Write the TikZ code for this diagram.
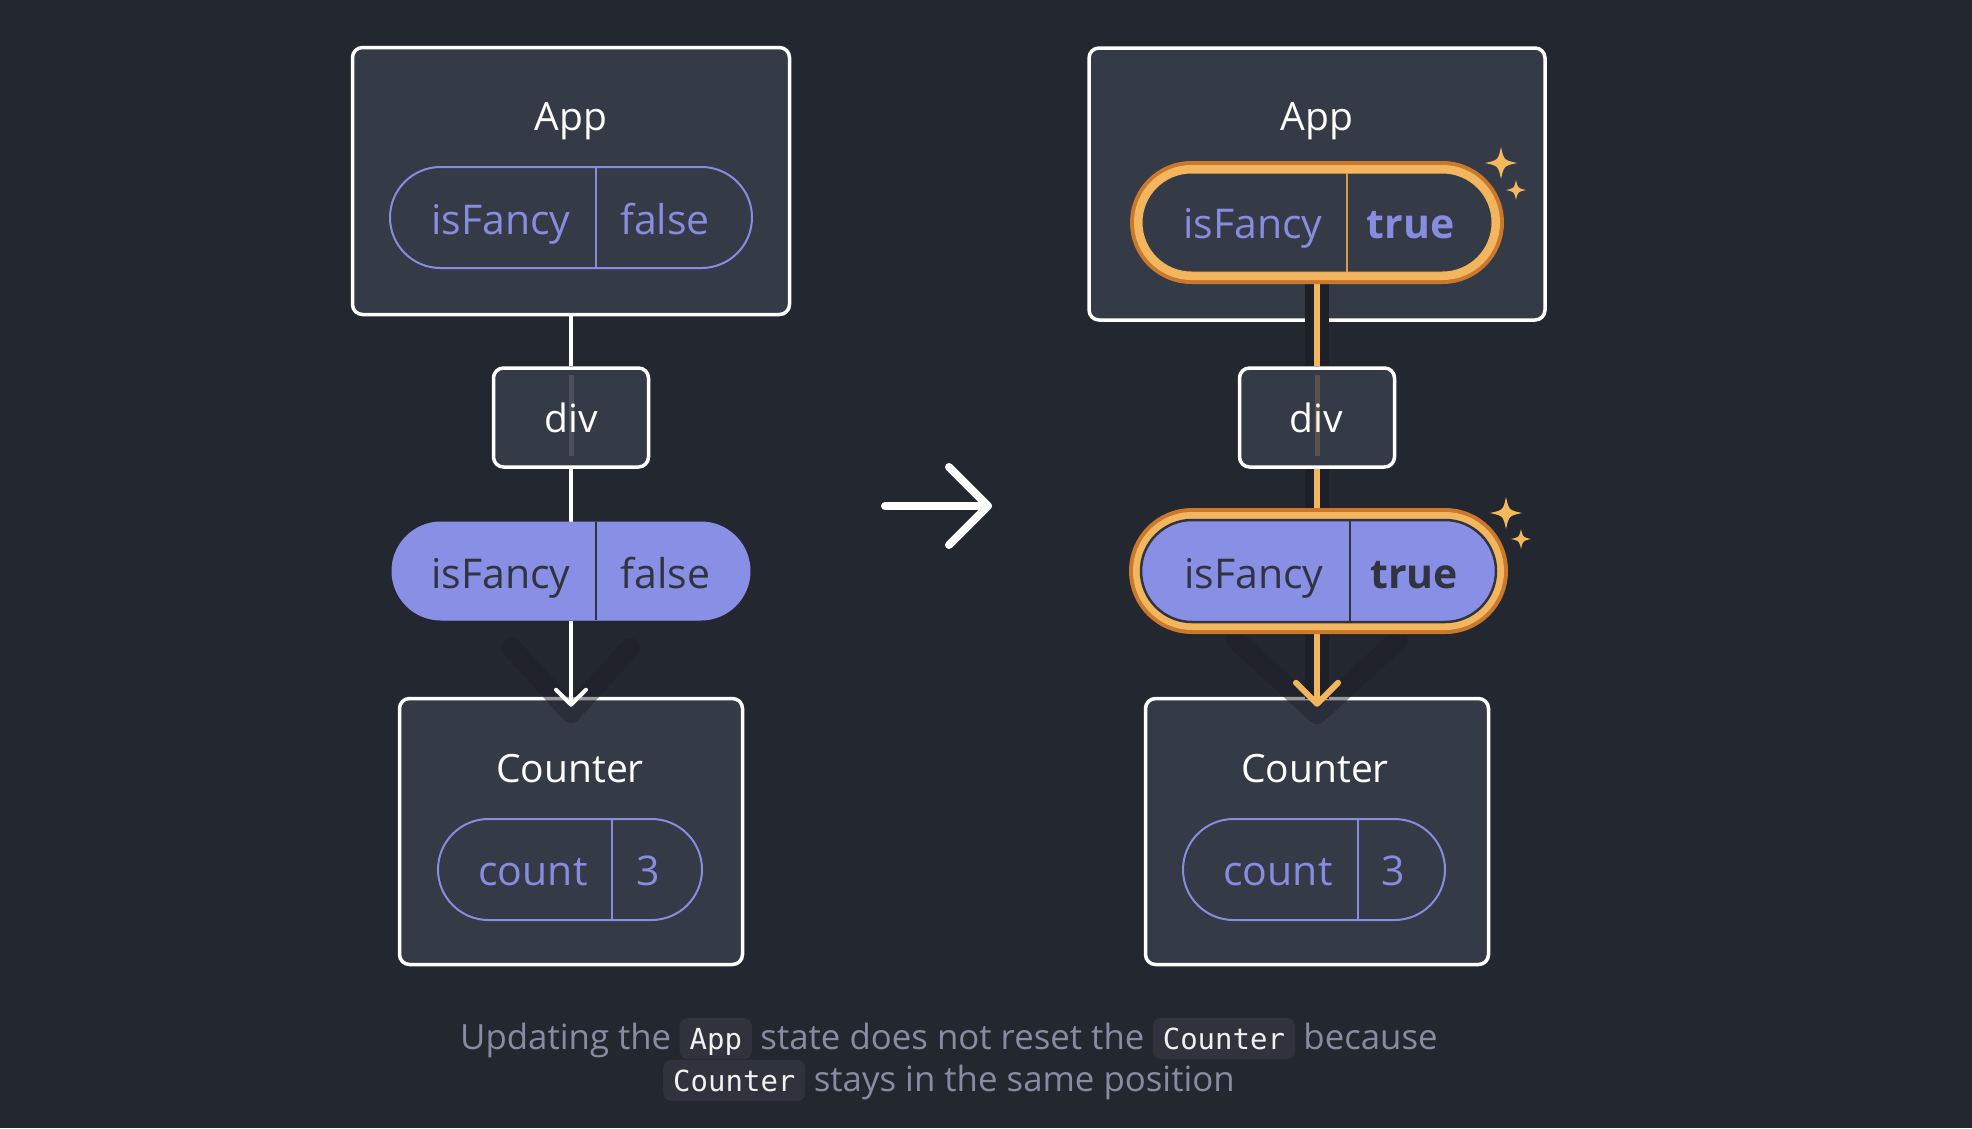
\documentclass[tikz,border=0pt]{standalone}
\usepackage{fontspec}
\setmainfont{Open Sans}
\setmonofont{DejaVu Sans Mono}
\usetikzlibrary{shapes.misc,arrows.meta}
\definecolor{bgc}{HTML}{23272F}
\definecolor{cardc}{HTML}{343A46}
\definecolor{purp}{HTML}{8A8FE6}
\definecolor{purptext}{HTML}{878CE0}
\definecolor{darktext}{HTML}{2F3441}
\definecolor{ringdark}{HTML}{C9782C}
\definecolor{ringlight}{HTML}{F3B65E}
\definecolor{sparkc}{HTML}{F4B95E}
\definecolor{shadowc}{HTML}{1D2027}
\definecolor{capc}{HTML}{878DA1}
\definecolor{chipc}{HTML}{30333D}
\pgfdeclarelayer{bg}\pgfdeclarelayer{conn}\pgfdeclarelayer{fg}
\pgfsetlayers{bg,main,conn,fg}
\newcommand\mysparkle[3]{\begin{scope}[shift={(#1,#2)},scale=#3]
\fill[sparkc] (0,-1) .. controls (0.18,-0.18) .. (1,0) .. controls (0.18,0.18) .. (0,1) .. controls (-0.18,0.18) .. (-1,0) .. controls (-0.18,-0.18) .. (0,-1) -- cycle;
\end{scope}}
\tikzset{
  card/.style={draw=white, line width=3.5pt, fill=cardc, rounded corners=10pt, inner sep=0pt},
  title/.style={font=\fontsize{39}{46}\selectfont, text=white, anchor=base, inner sep=0pt},
  pillline/.style={rounded rectangle, draw=purptext, line width=2pt, inner sep=0pt},
  pillfill/.style={rounded rectangle, fill=purp, draw=purp, line width=1pt, inner sep=0pt},
  glow/.style={preaction={draw=ringdark, line width=24pt}, preaction={draw=ringlight, line width=16pt}},
  ptext/.style={font=\fontsize{41}{48}\selectfont, anchor=base, inner sep=0pt},
  wire/.style={draw=white, line width=4pt},
  owire/.style={draw=ringlight, line width=6pt},
  shade/.style={draw=shadowc, line width=24pt},
  vshade/.style={draw=shadowc, line width=20pt, opacity=0.45, line join=round, line cap=round},
  captext/.style={font=\fontsize{34.8}{40}\selectfont, text=capc, inner sep=0pt, anchor=base west},
  chip/.style={font=\ttfamily\fontsize{29}{34}\selectfont, text=white!94!black, fill=chipc, rounded corners=8pt,
     inner xsep=10pt, inner ysep=6pt, text height=25pt, text depth=4pt, anchor=base west},
}
\begin{document}
\begin{tikzpicture}[x=1pt,y=-1pt]
\begin{pgfonlayer}{bg}
\fill[bgc] (0,0) rectangle (1972,1128);
\end{pgfonlayer}
\useasboundingbox (0,0) rectangle (1972,1128);

% ---------- boxes (main layer)
\node[card, minimum width=437pt, minimum height=267pt] (appL) at (571,181) {};
\node[card, minimum width=155pt, minimum height=99pt] (divL) at (571,417.5) {};
\node[card, minimum width=343pt, minimum height=266pt] (cntL) at (571,831.5) {};
\node[card, minimum width=456pt, minimum height=272pt] (appR) at (1317,184) {};
\node[card, minimum width=155pt, minimum height=99pt] (divR) at (1317,417.5) {};
\node[card, minimum width=343pt, minimum height=266pt] (cntR) at (1317,831.5) {};

\node[title] (tAppL) at (571,130) {App};
\node[title] (tDivL) at (571,432) {div};
\node[title] (tCntL) at (570,782) {Counter};
\node[title] (tAppR) at (1317,130) {App};
\node[title] (tDivR) at (1316,432) {div};
\node[title] (tCntR) at (1315,782) {Counter};

% ---------- pills (fg layer)
\begin{pgfonlayer}{fg}
\node[pillline, minimum width=362pt, minimum height=101pt] (pL1) at (571,217.5) {};
\node[pillfill, minimum width=358pt, minimum height=98pt] (pL2) at (571,571) {};
\node[pillline, minimum width=264pt, minimum height=101pt] (cpL) at (570,869.5) {};
\node[rounded rectangle, glow, fill=cardc, draw=ringlight, line width=1pt, inner sep=0pt,
      minimum width=350pt, minimum height=99pt] (pR1) at (1317,222.5) {};
\node[rounded rectangle, glow, fill=purp, draw=darktext, line width=2.5pt, inner sep=0pt,
      minimum width=355pt, minimum height=102pt] (pR2) at (1318.5,571) {};
\node[pillline, minimum width=262pt, minimum height=101pt] (cpR) at (1314,869.5) {};

\draw[purptext, line width=2pt] (596,167) -- (596,268);
\draw[darktext, line width=2pt] (596,522) -- (596,620);
\draw[purptext, line width=2pt] (612,819) -- (612,920);
\draw[ringlight!85!black, line width=2pt] (1347,173) -- (1347,272);
\draw[darktext, line width=2.5pt] (1350,520) -- (1350,622);
\draw[purptext, line width=2pt] (1358,819) -- (1358,920);

\node[ptext, text=purptext] (kL1) at (501,234) {isFancy};
\node[ptext, text=purptext] (vL1) at (665,234) {false};
\node[ptext, text=darktext] (kL2) at (501,588) {isFancy};
\node[ptext, text=darktext] (vL2) at (665.5,588) {false};
\node[ptext, text=purptext] (kcL) at (533,885) {count};
\node[ptext, text=purptext] (vcL) at (648,885) {3};
\node[ptext, text=purptext] (kR1) at (1253,238) {isFancy};
\node[ptext, text=purptext, font=\fontsize{41}{48}\selectfont\bfseries] (vR1) at (1410.5,238) {true};
\node[ptext, text=darktext] (kR2) at (1254,588) {isFancy};
\node[ptext, text=darktext, font=\fontsize{41}{48}\selectfont\bfseries] (vR2) at (1414,588) {true};
\node[ptext, text=purptext] (kcR) at (1278,885) {count};
\node[ptext, text=purptext] (vcR) at (1393,885) {3};

\mysparkle{1501}{163}{16}
\mysparkle{1516}{190}{10}
\mysparkle{1506}{513}{16}
\mysparkle{1521}{539}{10}
\end{pgfonlayer}

% ---------- connectors (conn layer)
\begin{pgfonlayer}{conn}
\draw[wire] (appL.south) -- (divL.north);
\draw[white, opacity=0.12, line width=5pt] ([yshift=-9pt]divL.north) -- ([yshift=13pt]divL.south);
\draw[wire] (divL.south) -- (divL.south |- pL2.north);
\draw[vshade] (512,648) -- (571,713) -- (630,648);
\draw[wire, -{Straight Barb[length=15pt,width=30pt,round]}] (pL2.south) -- ([yshift=-10pt]cntL.north);

\draw[shade] (pR1.south) -- (pR1.south |- divR.north);
\draw[owire] (pR1.south) -- (pR1.south |- divR.north);
\draw[ringlight, opacity=0.2, line width=5pt] ([yshift=-9pt]divR.north) -- ([yshift=13pt]divR.south);
\draw[shade] (divR.south) -- (divR.south |- pR2.north);
\draw[owire] (divR.south) -- (divR.south |- pR2.north);
\draw[vshade] (1236,640) -- (1317,714) -- (1398,640);
\draw[shade] (cntR.north |- pR2.south) -- ([yshift=-2pt]cntR.north);
\draw[owire, -{Straight Barb[length=21pt,width=42pt,round]}] (cntR.north |- pR2.south) -- ([yshift=-10pt]cntR.north);
\end{pgfonlayer}

% ---------- middle arrow
\coordinate (mA) at (885,506);
\coordinate (mB) at (988,506);
\draw[white, line width=8pt, line cap=round, line join=round] (mA) -- (mB);
\draw[white, line width=8pt, line cap=round, line join=round] (949,467) -- (mB) -- (949,545);

% ---------- caption
\node[captext] (c1) at (460,1049) {Updating the};
\node[chip] (c2) at ([xshift=8pt]c1.base east) {App};
\node[captext] (c3) at ([xshift=8pt]c2.base east) {state does not reset the};
\node[chip] (c4) at ([xshift=8pt]c3.base east) {Counter};
\node[captext] (c5) at ([xshift=8pt]c4.base east) {because};
\node[chip] (d1) at (663,1091) {Counter};
\node[captext] (d2) at ([xshift=8pt]d1.base east) {stays in the same position};
\end{tikzpicture}
\end{document}
